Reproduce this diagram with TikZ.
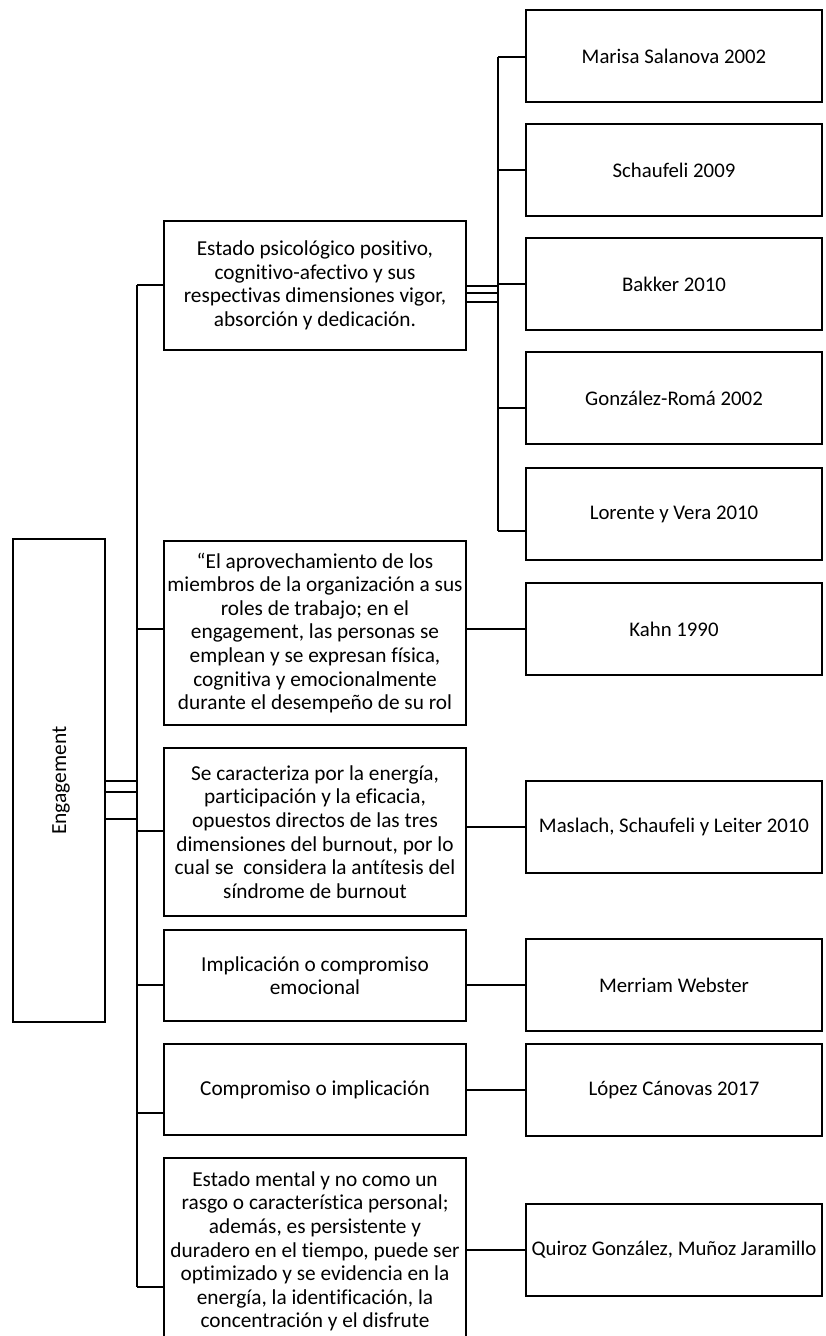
\documentclass[tikz,border=0pt]{standalone}
\usepackage{fontspec}
\setmainfont{Carlito}[Ligatures=NoCommon]
\begin{document}
\begin{tikzpicture}[x=1pt,y=-1pt,
  box/.style={draw, line width=2.4pt, align=center, inner sep=0pt},
  midbox/.style={box, minimum width=302pt, font=\fontsize{21.3}{23.6}\selectfont},
  refbox/.style={box, minimum width=296pt, minimum height=92pt, font=\fontsize{20.8}{23}\selectfont},
  wire/.style={line width=2.2pt}]
\useasboundingbox (0,0) rectangle (826,1336);

% root
\node[box, minimum width=92pt, minimum height=483pt] (eng) at (59,780.5) {};
\node[rotate=90, font=\fontsize{21.5}{24}\selectfont] (englabel) at ([xshift=2pt]eng.center) {Engagement};

% definitions
\node[midbox, minimum height=129pt] (m1) at (315,285.5)
  {Estado psicológico positivo,\\cognitivo-afectivo y sus\\respectivas dimensiones vigor,\\absorción y dedicación.};
\node[midbox, minimum height=184pt] (m2) at (315,633)
  {“El aprovechamiento de los\\miembros de la organización a sus\\roles de trabajo; en el\\engagement, las personas se\\emplean y se expresan física,\\cognitiva y emocionalmente\\durante el desempeño de su rol};
\node[midbox, minimum height=168pt] (m3) at (315,832)
  {Se caracteriza por la energía,\\participación y la eficacia,\\opuestos directos de las tres\\dimensiones del burnout, por lo\\cual se \ considera la antítesis del\\síndrome de burnout};
\node[midbox, minimum height=91pt] (m4) at (315,975.5)
  {Implicación o compromiso\\emocional};
\node[midbox, minimum height=91pt] (m5) at (315,1089.5)
  {Compromiso o implicación};
\node[midbox, minimum height=187pt] (m6) at (315,1251.5)
  {Estado mental y no como un\\rasgo o característica personal;\\además, es persistente y\\duradero en el tiempo, puede ser\\optimizado y se evidencia en la\\energía, la identificación, la\\concentración y el disfrute};

% authors
\node[refbox] (r1) at (674,56)  {Marisa Salanova 2002};
\node[refbox] (r2) at (674,170) {Schaufeli 2009};
\node[refbox] (r3) at (674,284) {Bakker 2010};
\node[refbox] (r4) at (674,398) {González-Romá 2002};
\node[refbox] (r5) at (674,514) {Lorente y Vera 2010};
\node[refbox] (r6) at (674,629) {Kahn 1990};
\node[refbox] (r7) at (674,827) {Maslach, Schaufeli y Leiter 2010};
\node[refbox] (r8) at (674,985) {Merriam Webster};
\node[refbox] (r9) at (674,1090) {López Cánovas 2017};
\node[refbox] (r10) at (674,1250) {Quiroz González, Muñoz Jaramillo};

% left trunk
\coordinate (lt) at (137,285);
\coordinate (lb) at (137,1287);
\draw[wire] (lt) -- (lb);
\foreach \y in {781,792,819} \draw[wire] (eng.east |- 0,\y) -- (lt |- 0,\y);
\draw[wire] (lt) -- (m1.west |- lt);
\draw[wire] (lt |- 0,629) -- (m2.west |- 0,629);
\draw[wire] (lt |- 0,831) -- (m3.west |- 0,831);
\draw[wire] (lt |- 0,985) -- (m4.west |- 0,985);
\draw[wire] (lt |- 0,1113) -- (m5.west |- 0,1113);
\draw[wire] (lb) -- (m6.west |- lb);

% right trunk
\coordinate (rt) at (498,57);
\coordinate (rb) at (498,531);
\draw[wire] (rt) -- (rb);
\foreach \y in {286,293,302} \draw[wire] (m1.east |- 0,\y) -- (rt |- 0,\y);
\draw[wire] (rt) -- (r1.west |- rt);
\draw[wire] (rt |- 0,170) -- (r2.west |- 0,170);
\draw[wire] (rt |- 0,284) -- (r3.west |- 0,284);
\draw[wire] (rt |- 0,408) -- (r4.west |- 0,408);
\draw[wire] (rb) -- (r5.west |- rb);

% single links
\draw[wire] (m2.east |- r6) -- (r6.west);
\draw[wire] (m3.east |- r7) -- (r7.west);
\draw[wire] (m4.east |- r8) -- (r8.west);
\draw[wire] (m5.east |- r9) -- (r9.west);
\draw[wire] (m6.east |- r10) -- (r10.west);
\end{tikzpicture}
\end{document}
